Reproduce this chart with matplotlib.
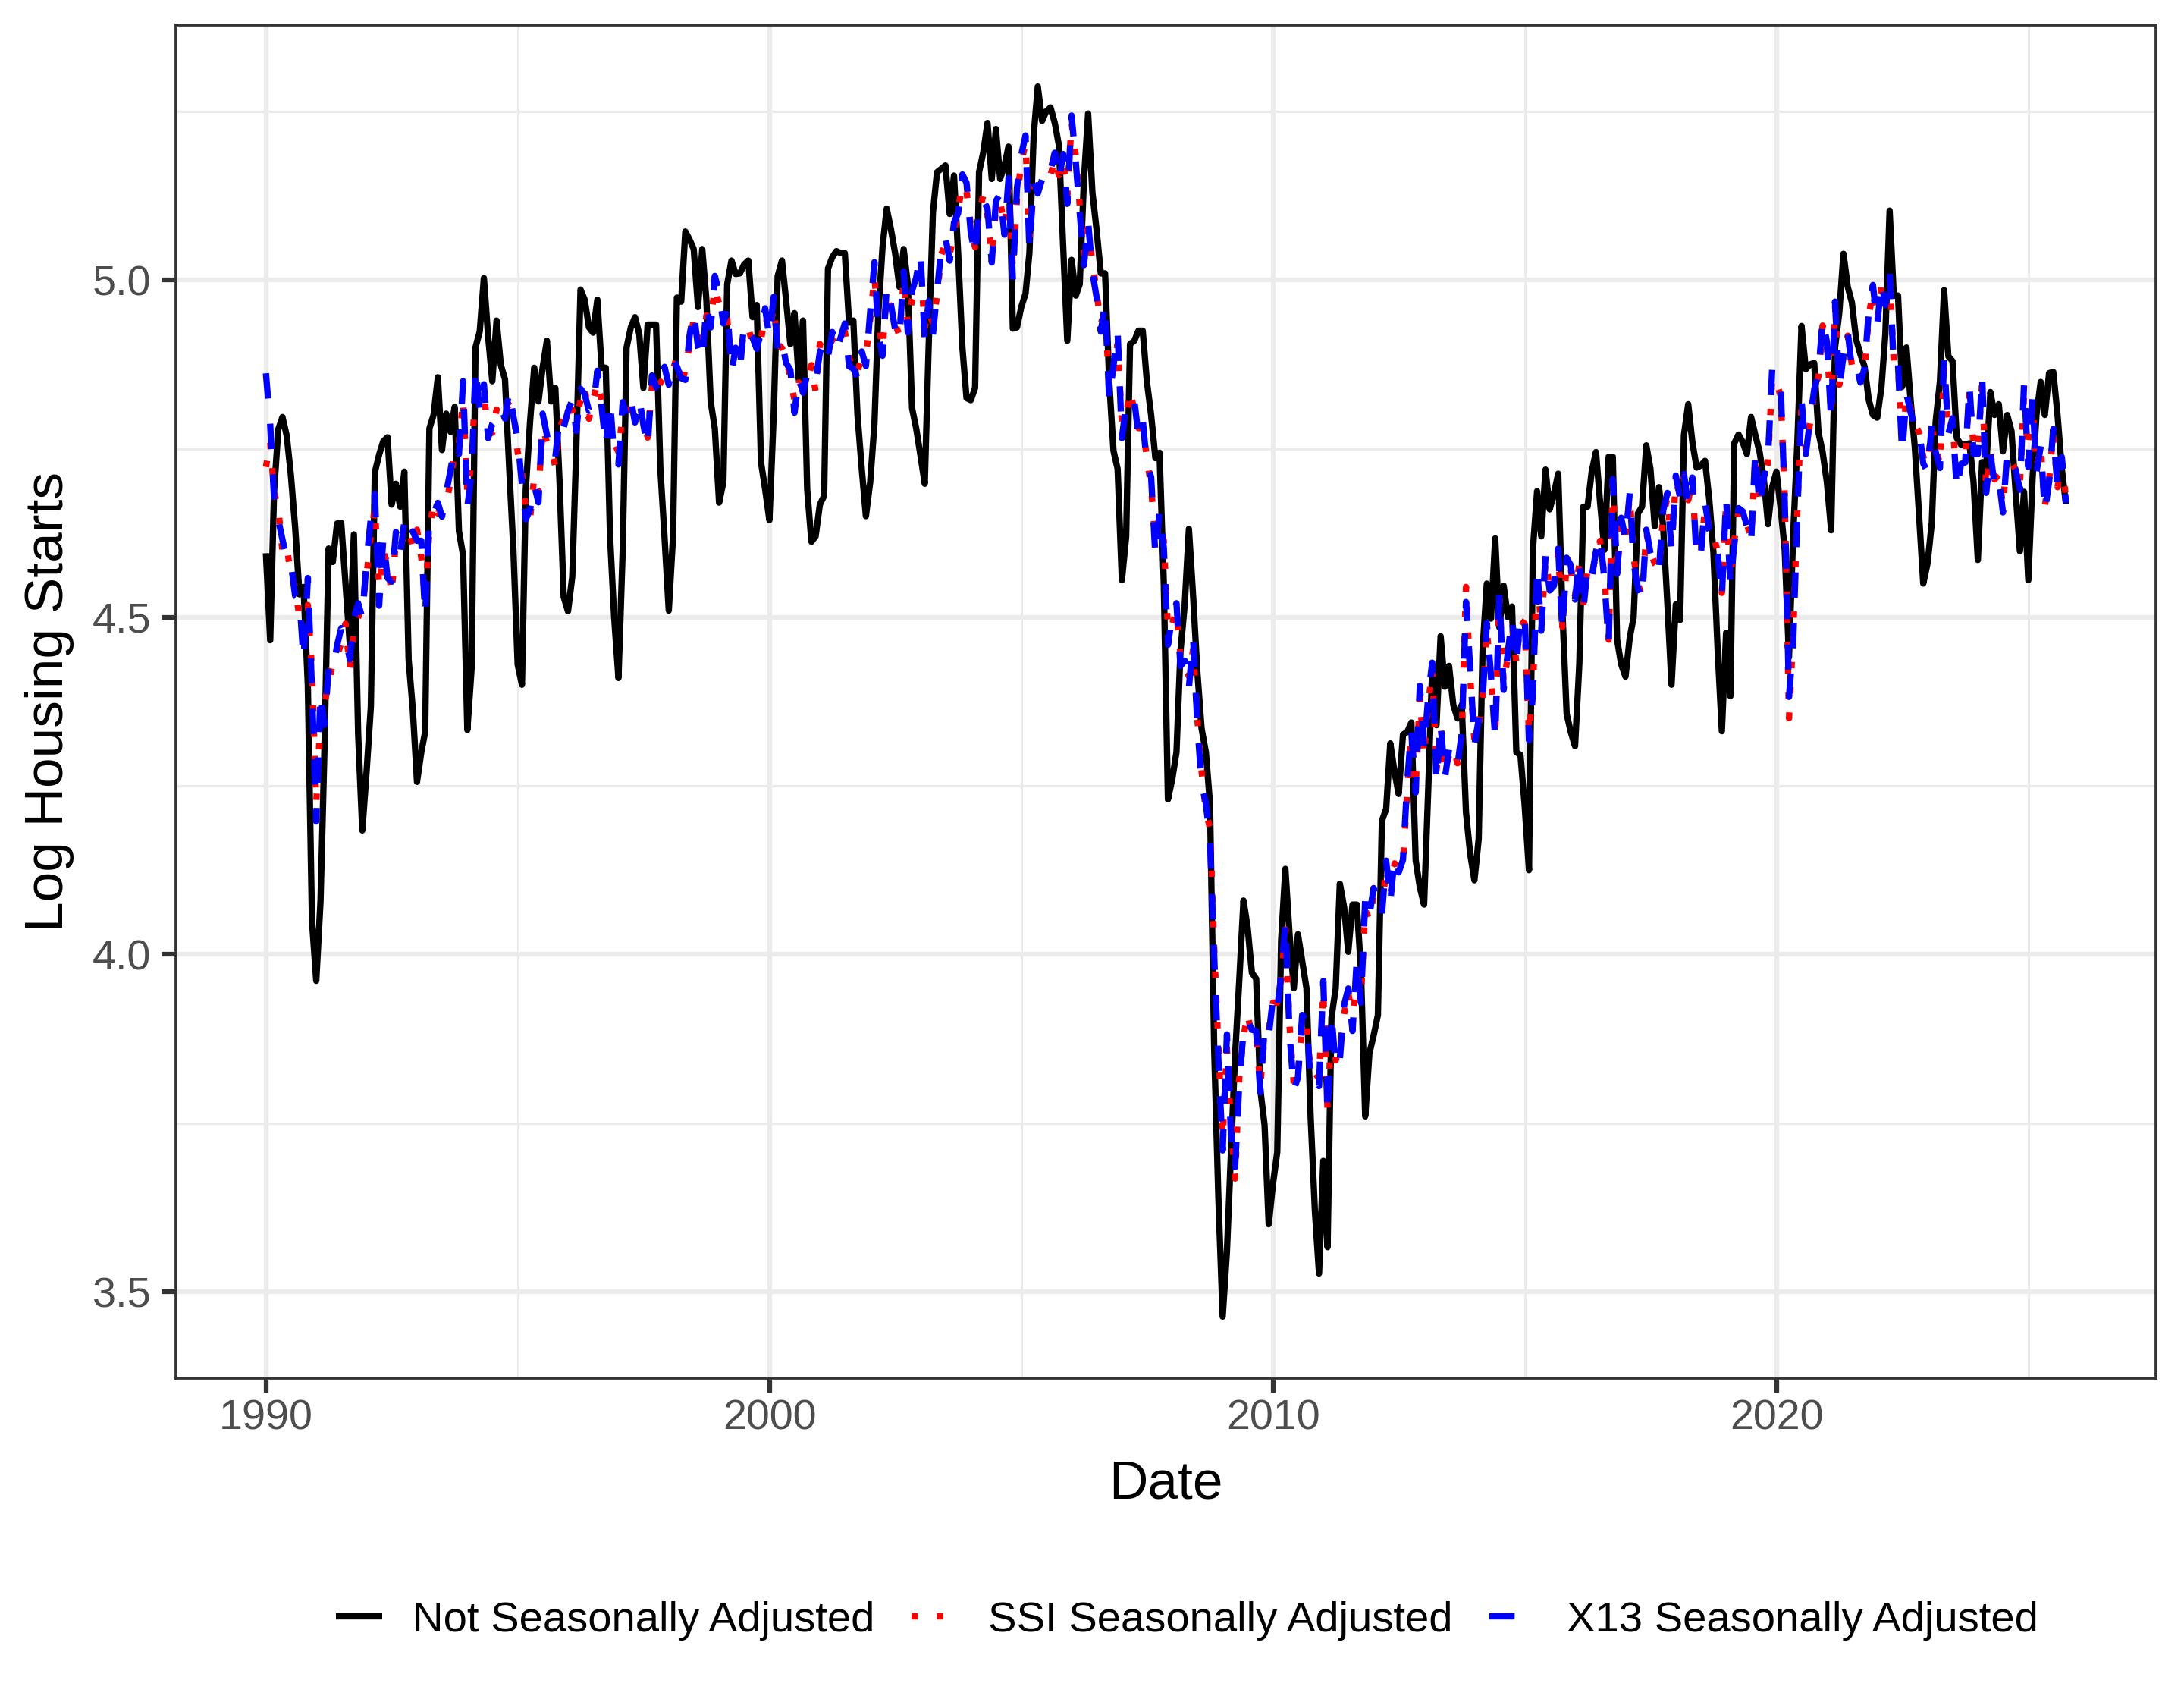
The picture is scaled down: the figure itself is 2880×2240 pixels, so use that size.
import numpy as np
import pandas as pd
import matplotlib
matplotlib.use("Agg")
import matplotlib.pyplot as plt
import matplotlib.dates as mdates
from matplotlib.ticker import MultipleLocator, FormatStrFormatter

plt.rcParams['font.family'] = ['Liberation Sans', 'DejaVu Sans']

# ---------------- data ----------------
start_month = "1990-01-01"

series_labels = ["Not Seasonally Adjusted", "SSI Seasonally Adjusted", "X13 Seasonally Adjusted"]

# log of not-seasonally-adjusted monthly housing starts
nsa_log = [
    4.595, 4.466, 4.687, 4.779, 4.797, 4.769, 4.711, 4.633, 4.534, 4.545, 4.399, 4.050,  # 1990
    3.961, 4.079, 4.301, 4.602, 4.582, 4.639, 4.640, 4.551, 4.461, 4.623, 4.326, 4.184,  # 1991
    4.271, 4.367, 4.715, 4.741, 4.761, 4.767, 4.667, 4.698, 4.664, 4.716, 4.437, 4.364,  # 1992
    4.256, 4.300, 4.330, 4.780, 4.800, 4.856, 4.748, 4.802, 4.775, 4.812, 4.628, 4.592,  # 1993
    4.333, 4.425, 4.900, 4.924, 5.003, 4.916, 4.850, 4.940, 4.874, 4.853, 4.720, 4.600,  # 1994
    4.430, 4.400, 4.690, 4.790, 4.870, 4.820, 4.870, 4.910, 4.820, 4.840, 4.700, 4.530,  # 1995
    4.509, 4.560, 4.750, 4.986, 4.971, 4.930, 4.922, 4.971, 4.870, 4.870, 4.620, 4.500,  # 1996
    4.410, 4.600, 4.900, 4.930, 4.945, 4.920, 4.840, 4.934, 4.934, 4.934, 4.720, 4.620,  # 1997
    4.510, 4.620, 4.974, 4.968, 5.072, 5.060, 5.046, 4.960, 5.046, 4.970, 4.820, 4.780,  # 1998
    4.670, 4.700, 4.994, 5.029, 5.009, 5.010, 5.023, 5.029, 4.945, 4.963, 4.730, 4.690,  # 1999
    4.644, 4.800, 5.006, 5.029, 4.970, 4.905, 4.951, 4.853, 4.940, 4.690, 4.612, 4.620,  # 2000
    4.667, 4.680, 5.017, 5.034, 5.043, 5.040, 5.040, 4.937, 4.940, 4.800, 4.720, 4.650,  # 2001
    4.700, 4.787, 4.950, 5.050, 5.106, 5.075, 5.040, 4.990, 5.046, 4.994, 4.810, 4.780,  # 2002
    4.740, 4.698, 4.900, 5.100, 5.160, 5.165, 5.170, 5.098, 5.155, 5.040, 4.900, 4.825,  # 2003
    4.822, 4.840, 5.160, 5.190, 5.233, 5.150, 5.224, 5.150, 5.170, 5.198, 4.928, 4.930,  # 2004
    4.960, 4.980, 5.040, 5.215, 5.287, 5.236, 5.250, 5.256, 5.233, 5.200, 5.050, 4.910,  # 2005
    5.030, 4.977, 4.994, 5.150, 5.247, 5.130, 5.075, 5.010, 5.010, 4.850, 4.747, 4.720,  # 2006
    4.555, 4.620, 4.905, 4.910, 4.925, 4.925, 4.850, 4.800, 4.736, 4.744, 4.550, 4.230,  # 2007
    4.260, 4.300, 4.450, 4.520, 4.631, 4.530, 4.420, 4.335, 4.300, 4.224, 3.856, 3.638,  # 2008
    3.463, 3.560, 3.700, 3.850, 3.960, 4.080, 4.040, 3.973, 3.964, 3.800, 3.747, 3.600,  # 2009
    3.660, 3.707, 4.020, 4.127, 4.030, 3.950, 4.030, 3.990, 3.950, 3.760, 3.620, 3.527,  # 2010
    3.694, 3.566, 3.906, 3.950, 4.105, 4.070, 4.004, 4.074, 4.074, 3.977, 3.760, 3.853,  # 2011
    3.880, 3.910, 4.198, 4.216, 4.313, 4.270, 4.238, 4.326, 4.330, 4.344, 4.140, 4.100,  # 2012
    4.074, 4.250, 4.423, 4.340, 4.472, 4.397, 4.428, 4.370, 4.350, 4.370, 4.211, 4.150,  # 2013
    4.110, 4.171, 4.450, 4.550, 4.498, 4.617, 4.485, 4.547, 4.500, 4.516, 4.300, 4.296,  # 2014
    4.220, 4.125, 4.600, 4.687, 4.620, 4.719, 4.660, 4.683, 4.713, 4.512, 4.357, 4.330,  # 2015
    4.309, 4.430, 4.664, 4.664, 4.716, 4.745, 4.670, 4.600, 4.738, 4.738, 4.467, 4.430,  # 2016
    4.412, 4.470, 4.500, 4.654, 4.664, 4.755, 4.720, 4.635, 4.693, 4.635, 4.520, 4.400,  # 2017
    4.519, 4.496, 4.770, 4.816, 4.760, 4.722, 4.725, 4.732, 4.674, 4.596, 4.450, 4.331,  # 2018
    4.477, 4.383, 4.758, 4.771, 4.760, 4.742, 4.797, 4.770, 4.745, 4.706, 4.638, 4.693,  # 2019
    4.716, 4.661, 4.600, 4.441, 4.620, 4.760, 4.932, 4.868, 4.875, 4.877, 4.774, 4.745,  # 2020
    4.700, 4.629, 4.900, 4.952, 5.039, 4.990, 4.967, 4.912, 4.890, 4.872, 4.822, 4.800,  # 2021
    4.796, 4.842, 4.920, 5.103, 4.977, 4.977, 4.842, 4.900, 4.820, 4.751, 4.650, 4.550,  # 2022
    4.580, 4.640, 4.790, 4.850, 4.985, 4.887, 4.880, 4.766, 4.756, 4.756, 4.758, 4.700,  # 2023
    4.585, 4.730, 4.720, 4.834, 4.800, 4.816, 4.746, 4.800, 4.776, 4.686, 4.598, 4.686,  # 2024
    4.555, 4.706, 4.800, 4.849, 4.800, 4.862, 4.864, 4.800, 4.720, 4.668,                # 2025
]

# X13 seasonally adjusted starts, annual rate (thousands)
x13_saar = [
    1551, 1437, 1289, 1248, 1212, 1177, 1171, 1115, 1110, 1014, 1145, 969,    # 1990
    798, 965, 921, 1001, 996, 1036, 1063, 1049, 1015, 1079, 1103, 1079,       # 1991
    1176, 1250, 1297, 1099, 1214, 1145, 1139, 1226, 1186, 1244, 1214, 1227,   # 1992
    1210, 1210, 1083, 1258, 1260, 1280, 1254, 1300, 1343, 1392, 1376, 1533,   # 1993
    1272, 1337, 1564, 1465, 1526, 1409, 1439, 1450, 1474, 1450, 1511, 1455,   # 1994
    1407, 1316, 1249, 1267, 1314, 1281, 1461, 1416, 1369, 1369, 1452, 1431,   # 1995
    1467, 1491, 1424, 1516, 1504, 1467, 1472, 1557, 1475, 1392, 1489, 1370,   # 1996
    1355, 1486, 1457, 1492, 1442, 1494, 1437, 1390, 1546, 1520, 1510, 1566,   # 1997
    1525, 1584, 1567, 1540, 1536, 1641, 1698, 1614, 1582, 1715, 1660, 1792,   # 1998
    1748, 1670, 1710, 1553, 1611, 1559, 1669, 1648, 1635, 1608, 1648, 1708,   # 1999
    1636, 1737, 1604, 1626, 1575, 1559, 1463, 1541, 1507, 1549, 1551, 1532,   # 2000
    1600, 1625, 1590, 1649, 1605, 1636, 1670, 1567, 1562, 1540, 1602, 1568,   # 2001
    1698, 1829, 1642, 1592, 1764, 1717, 1655, 1633, 1804, 1648, 1753, 1788,   # 2002
    1853, 1629, 1726, 1643, 1751, 1867, 1897, 1833, 1939, 1967, 2083, 2057,   # 2003
    1911, 1846, 1998, 2003, 1981, 1828, 2002, 2024, 1905, 2072, 1782, 2042,   # 2004
    2144, 2207, 1864, 2061, 2025, 2068, 2054, 2095, 2151, 2065, 2147, 1994,   # 2005
    2273, 2119, 1969, 1821, 1942, 1802, 1737, 1650, 1720, 1491, 1570, 1649,   # 2006
    1409, 1480, 1495, 1490, 1415, 1448, 1354, 1330, 1183, 1264, 1197, 1037,   # 2007
    1084, 1103, 1005, 1013, 973, 1046, 923, 844, 820, 777, 652, 560,          # 2008
    490, 582, 505, 478, 540, 585, 594, 586, 585, 534, 588, 581,               # 2009
    614, 604, 636, 687, 583, 536, 546, 599, 594, 543, 545, 539,               # 2010
    630, 517, 600, 554, 561, 608, 623, 585, 650, 610, 711, 694,               # 2011
    723, 704, 695, 753, 708, 757, 740, 754, 847, 915, 833, 976,               # 2012
    888, 962, 1010, 847, 925, 851, 888, 887, 868, 909, 1105, 1003,            # 2013
    894, 928, 954, 1071, 991, 903, 1119, 970, 1026, 1079, 1007, 1083,         # 2014
    1082, 900, 963, 1165, 1059, 1183, 1124, 1132, 1196, 1058, 1180, 1167,     # 2015
    1109, 1178, 1091, 1164, 1146, 1191, 1218, 1142, 1038, 1326, 1152, 1252,   # 2016
    1213, 1299, 1171, 1128, 1109, 1230, 1188, 1163, 1158, 1265, 1299, 1192,   # 2017
    1333, 1290, 1336, 1276, 1329, 1177, 1184, 1280, 1229, 1217, 1186, 1112,   # 2018
    1291, 1134, 1203, 1270, 1264, 1237, 1206, 1382, 1273, 1327, 1369, 1560,   # 2019
    1550, 1520, 1284, 960, 1038, 1265, 1492, 1376, 1448, 1514, 1550, 1680,    # 2020
    1625, 1447, 1725, 1514, 1594, 1650, 1562, 1573, 1530, 1563, 1703, 1768,   # 2021
    1666, 1777, 1716, 1805, 1562, 1571, 1377, 1505, 1463, 1432, 1427, 1357,   # 2022
    1340, 1436, 1380, 1348, 1583, 1418, 1451, 1305, 1356, 1359, 1525, 1376,   # 2023
    1376, 1546, 1299, 1377, 1315, 1329, 1262, 1379, 1355, 1344, 1305, 1526,   # 2024
    1350, 1494, 1339, 1392, 1263, 1321, 1428, 1307, 1370, 1280,               # 2025
]

# SSI seasonally adjusted starts, annual-rate equivalent (thousands)
ssi_saar = [
    1350, 1400, 1300, 1270, 1190, 1200, 1150, 1130, 1080, 1060, 1100, 1000,   # 1990
    820, 930, 950, 980, 1010, 1020, 1040, 1070, 1000, 1060, 1080, 1100,       # 1991
    1150, 1220, 1270, 1130, 1190, 1170, 1120, 1210, 1200, 1220, 1230, 1200,   # 1992
    1230, 1180, 1110, 1230, 1280, 1260, 1270, 1280, 1320, 1380, 1400, 1490,   # 1993
    1300, 1360, 1530, 1490, 1500, 1430, 1420, 1470, 1450, 1470, 1480, 1470,   # 1994
    1380, 1340, 1270, 1250, 1330, 1300, 1430, 1400, 1390, 1350, 1430, 1450,   # 1995
    1440, 1470, 1450, 1490, 1520, 1450, 1490, 1530, 1490, 1410, 1460, 1400,   # 1996
    1380, 1460, 1470, 1470, 1460, 1480, 1450, 1410, 1520, 1500, 1530, 1540,   # 1997
    1540, 1560, 1590, 1520, 1560, 1620, 1680, 1640, 1600, 1690, 1680, 1760,   # 1998
    1720, 1690, 1680, 1580, 1600, 1580, 1650, 1660, 1620, 1630, 1630, 1690,   # 1999
    1650, 1710, 1620, 1610, 1590, 1540, 1490, 1530, 1520, 1530, 1570, 1510,   # 2000
    1620, 1600, 1610, 1630, 1620, 1620, 1650, 1590, 1550, 1560, 1580, 1590,   # 2001
    1680, 1790, 1670, 1610, 1740, 1700, 1670, 1640, 1780, 1670, 1730, 1760,   # 2002
    1820, 1660, 1700, 1670, 1740, 1850, 1880, 1850, 1910, 1980, 2050, 2030,   # 2003
    1930, 1870, 1970, 2020, 1960, 1850, 1980, 2000, 1930, 2040, 1810, 2010,   # 2004
    2120, 2180, 1900, 2040, 2050, 2050, 2070, 2080, 2130, 2080, 2120, 2020,   # 2005
    2250, 2140, 1990, 1850, 1920, 1830, 1750, 1670, 1700, 1520, 1560, 1620,   # 2006
    1440, 1460, 1510, 1470, 1430, 1430, 1370, 1310, 1210, 1240, 1210, 1060,   # 2007
    1070, 1090, 1020, 1000, 990, 1030, 930, 860, 810, 790, 660, 570,          # 2008
    500, 570, 510, 470, 545, 580, 600, 580, 580, 540, 580, 585,               # 2009
    610, 610, 630, 680, 590, 540, 550, 590, 590, 550, 550, 545,               # 2010
    620, 520, 590, 560, 570, 600, 620, 590, 640, 615, 700, 690,               # 2011
    715, 700, 700, 745, 715, 750, 745, 750, 835, 905, 840, 960,               # 2012
    880, 950, 1000, 860, 920, 860, 880, 890, 870, 905, 1130, 990,             # 2013
    900, 920, 960, 1060, 990, 910, 1110, 980, 1020, 1070, 1010, 1075,         # 2014
    1070, 910, 970, 1150, 1065, 1175, 1130, 1125, 1190, 1065, 1170, 1160,     # 2015
    1115, 1170, 1100, 1160, 1150, 1185, 1210, 1150, 1045, 1315, 1160, 1245,   # 2016
    1220, 1290, 1180, 1135, 1115, 1225, 1190, 1170, 1160, 1255, 1290, 1200,   # 2017
    1320, 1295, 1330, 1285, 1320, 1185, 1190, 1270, 1235, 1220, 1190, 1120,   # 2018
    1280, 1145, 1210, 1265, 1260, 1240, 1215, 1370, 1280, 1320, 1360, 1540,   # 2019
    1530, 1500, 1295, 930, 1050, 1270, 1480, 1385, 1440, 1505, 1545, 1665,    # 2020
    1615, 1460, 1715, 1525, 1590, 1640, 1570, 1575, 1535, 1560, 1690, 1750,   # 2021
    1675, 1765, 1725, 1790, 1575, 1570, 1395, 1500, 1470, 1440, 1420, 1370,   # 2022
    1355, 1430, 1390, 1355, 1565, 1425, 1445, 1320, 1360, 1365, 1510, 1390,   # 2023
    1385, 1530, 1310, 1380, 1325, 1335, 1275, 1375, 1360, 1345, 1315, 1505,   # 2024
    1360, 1480, 1350, 1390, 1275, 1325, 1420, 1310, 1360, 1290,               # 2025
]

# ---------------- derived series ----------------
n = len(nsa_log)
dates = pd.date_range(start_month, periods=n, freq="MS")
nsa = np.array(nsa_log)
x13 = np.log(np.array(x13_saar) / 12.0)
ssi = np.log(np.array(ssi_saar) / 12.0)

# ---------------- figure ----------------
W, H = 2880, 2240
fig = plt.figure(figsize=(W / 300, H / 300), dpi=300)
left, right, bottom, top = 232 / W, 2843 / W, 1 - 1817 / H, 1 - 33 / H
ax = fig.add_axes([left, bottom, right - left, top - bottom])

lw = 2.0
ax.plot(dates, nsa, color="black", lw=lw, solid_capstyle="butt",
        solid_joinstyle="round", label=series_labels[0], zorder=3)
ax.plot(dates, ssi, color="#FF0000", lw=lw, linestyle=(0, (1, 3)),
        dash_capstyle="butt", label=series_labels[1], zorder=4)
ax.plot(dates, x13, color="#0000FF", lw=lw, linestyle=(0, (4, 4)),
        dash_capstyle="butt", label=series_labels[2], zorder=5)

ax.margins(x=0.05, y=0.05)

# axes styling (theme_bw-like)
ax.xaxis.set_major_locator(mdates.YearLocator(10))
ax.xaxis.set_minor_locator(mdates.YearLocator(5))
ax.xaxis.set_major_formatter(mdates.DateFormatter("%Y"))
ax.yaxis.set_major_locator(MultipleLocator(0.5))
ax.yaxis.set_minor_locator(MultipleLocator(0.25))
ax.yaxis.set_major_formatter(FormatStrFormatter("%.1f"))

ax.set_axisbelow(True)
ax.grid(which="major", color="#EBEBEB", lw=1.5)
ax.grid(which="minor", color="#EBEBEB", lw=0.75)
for s in ax.spines.values():
    s.set_color("#333333")
    s.set_linewidth(0.9)

ax.tick_params(which="major", length=4.6, width=1.5, color="#333333",
               labelsize=13.4, labelcolor="#4D4D4D")
ax.tick_params(axis="x", which="major", pad=2.0)
ax.tick_params(axis="y", which="major", pad=3.2)
ax.tick_params(which="minor", length=0)

fig.text(0.0226, (top + bottom) / 2, "Log Housing Starts", rotation=90,
         ha="center", va="center", fontsize=17.1, color="black")
fig.text((left + right) / 2, 1 - 1957 / H, "Date", ha="center", va="center",
         fontsize=17.1, color="black")

fig.legend(loc="center", bbox_to_anchor=(0.5435, 1 - 2137 / H), ncol=3,
           frameon=False, fontsize=13.5, handlelength=1.08, handletextpad=0.72,
           columnspacing=0.86)

fig.savefig("out.png", dpi=300)
